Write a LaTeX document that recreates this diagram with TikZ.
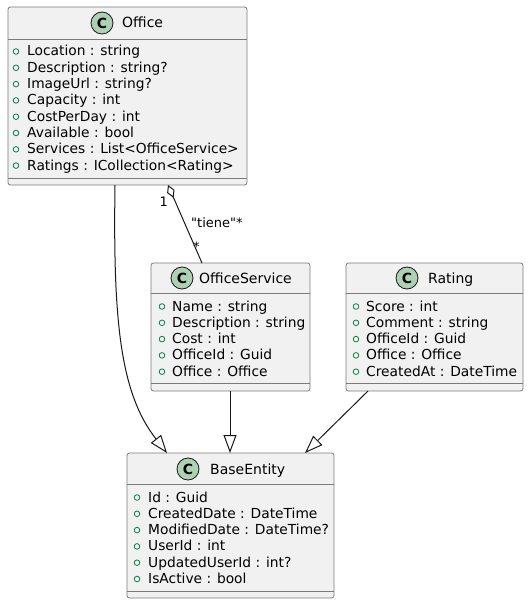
\documentclass[tikz,border=0pt]{standalone}
\usepackage{fontspec}
\setmainfont{DejaVu Sans}
\newfontfamily\plainfont{DejaVu Sans}
\usetikzlibrary{arrows.meta}
\definecolor{boxfill}{HTML}{F1F1F1}
\definecolor{boxline}{HTML}{7A7A7A}
\definecolor{cfill}{HTML}{ADD1B2}
\definecolor{mgreen}{HTML}{038048}
\definecolor{ink}{HTML}{181818}
\begin{document}
\begin{tikzpicture}[x=1pt,y=-1pt,
 classbox/.style={draw=boxline, fill=boxfill, rounded corners=2.5pt, line width=0.8pt, inner sep=0pt, outer sep=0pt, anchor=north west},
 sepline/.style={draw=boxline, line width=0.8pt},
 cicon/.style={circle, draw=ink, fill=cfill, minimum size=22pt, inner sep=0pt, line width=0.8pt, font=\fontsize{14}{14}\selectfont\bfseries},
 cname/.style={anchor=base west, inner sep=0pt, font=\fontsize{14}{16}\selectfont},
 attr/.style={anchor=base west, inner sep=0pt, font=\fontsize{13.8}{16}\selectfont},
 amark/.style={circle, draw=mgreen, line width=0.8pt, minimum size=5.6pt, inner sep=0pt},
 rel/.style={draw=ink, line width=1pt},
 lbl/.style={inner sep=0pt, font=\plainfont\fontsize{13}{13}\selectfont},
 inh/.style={rel, -{Triangle[open,length=18pt,width=13pt]}},
]
\useasboundingbox (0,0) rectangle (529,604);

% ---------- Office ----------
\node[classbox, minimum width=239pt, minimum height=178pt] (office) at (8,7) {};
\draw[sepline] (8,39) -- (247,39);
\draw[sepline] (8,178) -- (247,178);
\node[cicon] (officeC) at (102,23) {C};
\node[cname] (officeN) at (122,28) {Office};
\foreach \t [count=\i from 0] in {Location : string, Description : string?, ImageUrl : string?, Capacity : int, CostPerDay : int, Available : bool, Services : List<OfficeService>, Ratings : ICollection<Rating>}{
  \node[amark] (om\i) at (16,{56+16.3*\i-4.5}) {};
  \node[attr] (oa\i) at (27,{56+16.3*\i}) {\t};
}

% ---------- OfficeService ----------
\node[classbox, minimum width=159pt, minimum height=128pt] (osvc) at (151,263) {};
\draw[sepline] (151,293) -- (310,293);
\draw[sepline] (151,383) -- (310,383);
\node[cicon] (osvcC) at (182,278) {C};
\node[cname] (osvcN) at (199,283) {OfficeService};
\foreach \t [count=\i from 0] in {Name : string, Description : string, Cost : int, OfficeId : Guid, Office : Office}{
  \node[amark] (sm\i) at (162,{311+16.3*\i-4.5}) {};
  \node[attr] (sa\i) at (172,{311+16.3*\i}) {\t};
}

% ---------- Rating ----------
\node[classbox, minimum width=177pt, minimum height=128pt] (rating) at (346,263) {};
\draw[sepline] (346,293) -- (523,293);
\draw[sepline] (346,383) -- (523,383);
\node[cicon] (ratingC) at (407,278) {C};
\node[cname] (ratingN) at (428,283) {Rating};
\foreach \t [count=\i from 0] in {Score : int, Comment : string, OfficeId : Guid, Office : Office, CreatedAt : DateTime}{
  \node[amark] (rm\i) at (356,{311+16.3*\i-4.5}) {};
  \node[attr] (ra\i) at (366,{311+16.3*\i}) {\t};
}

% ---------- BaseEntity ----------
\node[classbox, minimum width=207pt, minimum height=145pt] (base) at (127,453) {};
\draw[sepline] (127,484) -- (334,484);
\draw[sepline] (127,591) -- (334,591);
\node[cicon] (baseC) at (188,469) {C};
\node[cname] (baseN) at (210,474) {BaseEntity};
\foreach \t [count=\i from 0] in {Id : Guid, CreatedDate : DateTime, ModifiedDate : DateTime?, UserId : int, UpdatedUserId : int?, IsActive : bool}{
  \node[amark] (bm\i) at (137,{502+16.3*\i-4.5}) {};
  \node[attr] (ba\i) at (148,{502+16.3*\i}) {\t};
}

% ---------- Relations ----------
\draw[rel, {Diamond[open,length=14pt,width=8pt]}-] ([xshift=160pt]office.south west) -- ([xshift=51pt]osvc.north west);
\node[lbl, anchor=base east] (l1) at (168,206) {1};
\node[lbl, anchor=base west] (ltiene) at (191,227) {"tiene"*};
\node[lbl, anchor=base west] (lstar) at (193,251) {*};

\draw[inh] ([xshift=107pt]office.south west) .. controls +(-2,135) and +(-47,-60) .. ([xshift=40pt]base.north west);
\draw[inh] ([xshift=79pt]osvc.south west) -- ([xshift=103pt]base.north west);
\draw[inh] ([xshift=22pt]rating.south west) -- ([xshift=178pt]base.north west);
\end{tikzpicture}
\end{document}
